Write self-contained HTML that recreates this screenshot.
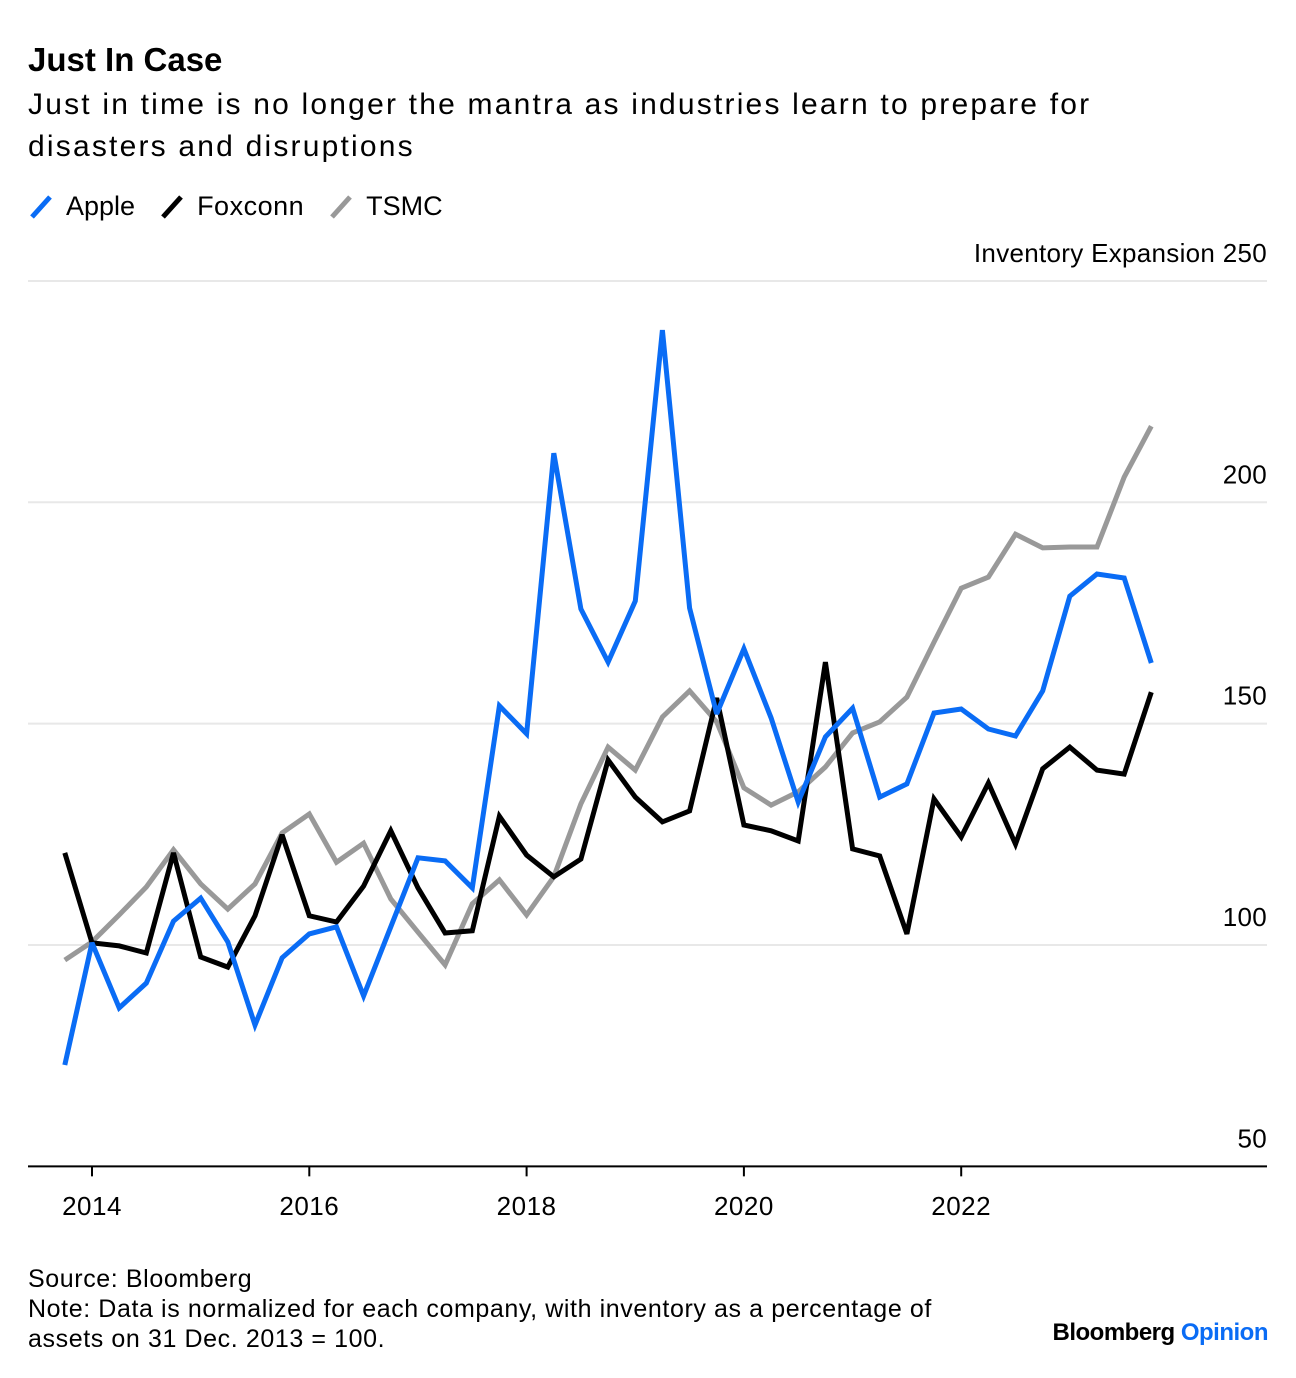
<!DOCTYPE html>
<html><head><meta charset="utf-8"><style>
body{margin:0;background:#fff;width:1296px;height:1378px;overflow:hidden;font-family:"Liberation Sans",sans-serif;color:#000}
.t{position:absolute;white-space:nowrap}
</style></head><body>
<div class="t" style="left:28px;top:41px;font-size:33px;font-weight:bold">Just In Case</div>
<div class="t" style="left:28px;top:84px;font-size:30px;line-height:42px;white-space:normal;width:1130px;letter-spacing:2.2px">Just in time is no longer the mantra as industries learn to prepare for disasters and disruptions</div>
<div style="position:absolute;left:28px;top:191px;font-size:27px;display:flex;align-items:center">
 <span style="display:flex;align-items:center;margin-right:24px"><svg width="26" height="28"><line x1="4" y1="24" x2="22" y2="4" stroke="#0a6cf5" stroke-width="5"/></svg><span style="margin-left:12px">Apple</span></span>
 <span style="display:flex;align-items:center;margin-right:24px"><svg width="26" height="28"><line x1="4" y1="24" x2="22" y2="4" stroke="#000" stroke-width="5"/></svg><span style="margin-left:12px;letter-spacing:0.5px">Foxconn</span></span>
 <span style="display:flex;align-items:center"><svg width="26" height="28"><line x1="4" y1="24" x2="22" y2="4" stroke="#999" stroke-width="5"/></svg><span style="margin-left:12px">TSMC</span></span>
</div>
<svg id="chart" width="1296" height="1378" style="position:absolute;left:0;top:0"></svg>
<div class="t" style="left:28px;top:1264px;font-size:25px;line-height:30px;letter-spacing:0.6px">Source: Bloomberg<br>Note: Data is normalized for each company, with inventory as a percentage of<br>assets on 31 Dec. 2013 = 100.</div>
<div class="t" style="right:28px;top:1319px;font-size:24px;font-weight:bold;letter-spacing:-0.5px">Bloomberg <span style="color:#0a6cf5">Opinion</span></div>
<script>
const apple=[72.9,100.5,85.8,91.4,105.4,110.6,100.7,81.9,97.1,102.5,104.1,88.5,104.1,119.7,119.0,112.9,154.0,147.7,211.1,175.9,163.9,177.7,238.9,176.1,152.2,166.9,151.3,132.3,147.0,153.5,133.4,136.4,152.4,153.3,148.8,147.2,157.4,178.8,183.8,182.9,163.7];
const foxconn=[120.8,100.5,99.8,98.2,120.8,97.3,95.0,106.6,124.9,106.6,105.2,113.3,125.8,112.9,102.7,103.2,129.1,120.3,115.4,119.4,141.8,133.4,127.8,130.3,155.8,127.1,125.8,123.5,163.9,121.7,120.1,102.5,133.0,124.4,136.6,122.8,139.8,144.7,139.5,138.6,157.1];
const tsmc=[96.6,100.7,106.8,113.1,121.5,113.8,108.1,113.8,125.3,129.6,118.7,123.0,110.4,102.9,95.5,109.3,114.7,106.8,115.4,131.9,144.7,139.5,151.5,157.4,150.4,135.5,131.6,134.6,140.2,147.9,150.4,156.0,168.4,180.6,183.1,192.8,189.7,189.9,189.9,205.7,217.2];
const startYear=2013.75;
const yTicks=[50,100,150,200,250];
const xTicks=[2014,2016,2018,2020,2022];
const NS="http://www.w3.org/2000/svg";
const svg=document.getElementById('chart');
function X(yr){return 92+(yr-2014)*108.65;}
function Y(v){return 945-(v-100)*4.427;}
function el(t,a){const e=document.createElementNS(NS,t);for(const k in a)e.setAttribute(k,a[k]);svg.appendChild(e);return e;}
yTicks.forEach(v=>{
 if(v>50){const g=el('line',{x1:28,x2:1267,y1:Y(v),y2:Y(v),stroke:'#e8e8e8','stroke-width':2});
 
 }
 const t=el('text',{x:1267,y:Y(v)-19,'text-anchor':'end','font-size':26,'letter-spacing':'0.3','font-family':'Liberation Sans, sans-serif'});
 t.textContent=(v===250?'Inventory Expansion ':'')+v;
 
 
});
const ax=el('line',{x1:28,x2:1267,y1:Y(50),y2:Y(50),stroke:'#000','stroke-width':2});


xTicks.forEach(yr=>{
 const tk=el('line',{x1:X(yr),x2:X(yr),y1:Y(50),y2:Y(50)+10,stroke:'#000','stroke-width':2});
 
 
 const t=el('text',{x:X(yr),y:1215,'text-anchor':'middle','font-size':26,'letter-spacing':'0.5','font-family':'Liberation Sans, sans-serif'});
 t.textContent=yr;
 
 
});
function line(d,c,n){
 const p=d.map((v,i)=>X(startYear+i*0.25).toFixed(1)+','+Y(v).toFixed(1)).join(' ');
 const l=el('polyline',{points:p,fill:'none',stroke:c,'stroke-width':5,'stroke-linejoin':'miter','stroke-miterlimit':3});
 
 
}
line(tsmc,'#999999','line-tsmc');
line(foxconn,'#000000','line-foxconn');
line(apple,'#0a6cf5','line-apple');
</script>
</body></html>
